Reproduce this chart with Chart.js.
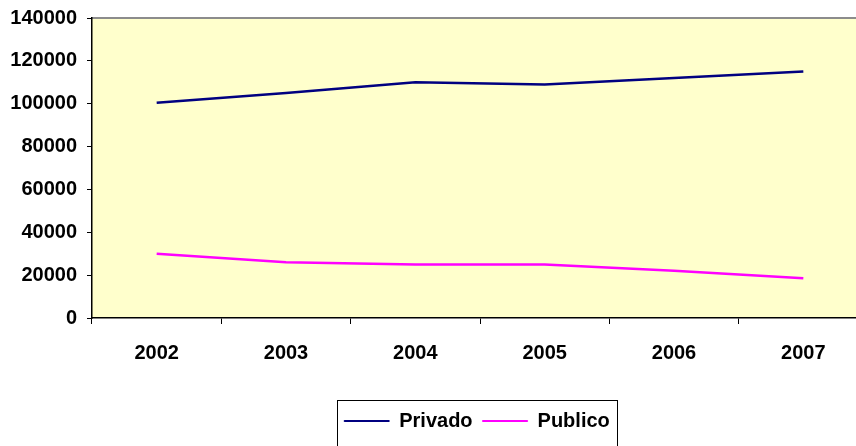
<!DOCTYPE html>
<html>
<head>
<meta charset="utf-8">
<script src="https://cdn.jsdelivr.net/npm/chart.js@4/dist/chart.umd.min.js"></script>
<style>
  html, body { margin: 0; padding: 0; background: #fff; overflow: hidden; }
  #wrap { position: absolute; left: 0; top: 0; width: 954px; height: 446px; }
</style>
</head>
<body>
<div id="wrap"><canvas id="chart"></canvas></div>
<script>
// --- DONNÉES ---
const years = ['2002', '2003', '2004', '2005', '2006', '2007'];
const privado = [100500, 105000, 110000, 109000, 112000, 115000];
const publico = [30000, 26000, 25000, 25000, 22000, 18500];
const yTicks = [0, 20000, 40000, 60000, 80000, 100000, 120000, 140000];

const FONT = '"Liberation Sans", Arial, sans-serif';
const LEGEND_CENTER = 477;

// fond jaune, trait gris du haut, cadre de la légende
const decor = {
  id: 'decor',
  afterLayout(chart) {
    const l = chart.legend;
    const d = LEGEND_CENTER - (l.left + l.right) / 2;
    l.left += d;
    l.right += d;
  },
  beforeDraw(chart) {
    const a = chart.chartArea, ctx = chart.ctx;
    ctx.save();
    ctx.fillStyle = '#FFFFCC';
    ctx.fillRect(a.left, a.top, a.right - a.left, a.bottom - a.top);
    ctx.strokeStyle = '#8c8c8c';
    ctx.lineWidth = 2;
    ctx.beginPath();
    ctx.moveTo(a.left, a.top);
    ctx.lineTo(a.right, a.top);
    ctx.stroke();
    ctx.restore();
  },
  afterDraw(chart) {
    const l = chart.legend, ctx = chart.ctx;
    const c = (l.left + l.right) / 2;
    const w = l.lineWidths[0];
    ctx.save();
    ctx.strokeStyle = '#000';
    ctx.lineWidth = 1;
    ctx.strokeRect(Math.round(c - w / 2 - 2) + 0.5, Math.round(l.top) - 0.5, Math.round(w + 4), 60);
    ctx.restore();
  }
};

new Chart(document.getElementById('chart'), {
  type: 'line',
  data: {
    labels: years,
    datasets: [
      { label: 'Privado', data: privado, borderColor: '#000080', backgroundColor: '#000080', borderWidth: 2.5, pointRadius: 0, tension: 0 },
      { label: 'Publico', data: publico, borderColor: '#FF00FF', backgroundColor: '#FF00FF', borderWidth: 2.5, pointRadius: 0, tension: 0 }
    ]
  },
  options: {
    responsive: true,
    maintainAspectRatio: false,
    animation: false,
    layout: { padding: { top: 18, right: 86, left: 0, bottom: 5 } },
    scales: {
      x: {
        offset: true,
        afterFit: (axis) => { axis.height = 83; },
        grid: { offset: true, drawOnChartArea: false, tickLength: 6, color: '#000' },
        border: { color: '#000', width: 1.5 },
        ticks: { color: '#000', padding: 17, maxRotation: 0, font: { family: FONT, size: 20, weight: 'bold' } }
      },
      y: {
        min: 0, max: 140000,
        afterBuildTicks: (axis) => { axis.ticks = yTicks.map(v => ({ value: v })); },
        afterFit: (axis) => { axis.width = 92; axis.paddingTop = 0; axis.paddingBottom = 0; },
        grid: { drawOnChartArea: false, tickLength: 5, color: '#000' },
        border: { color: '#000', width: 1.5 },
        ticks: {
          color: '#000', padding: 10,
          callback: (v) => String(v),
          font: { family: FONT, size: 20, weight: 'bold' }
        }
      }
    },
    plugins: {
      legend: {
        position: 'bottom',
        labels: {
          color: '#000',
          boxWidth: 45,
          boxHeight: 1,
          padding: 10,
          font: { family: FONT, size: 20, weight: 'bold' },
          generateLabels: (chart) => Chart.defaults.plugins.legend.labels.generateLabels(chart)
            .map(item => ({ ...item, lineWidth: 1 }))
        }
      },
      tooltip: { enabled: false }
    }
  },
  plugins: [decor]
});
</script>
</body>
</html>
